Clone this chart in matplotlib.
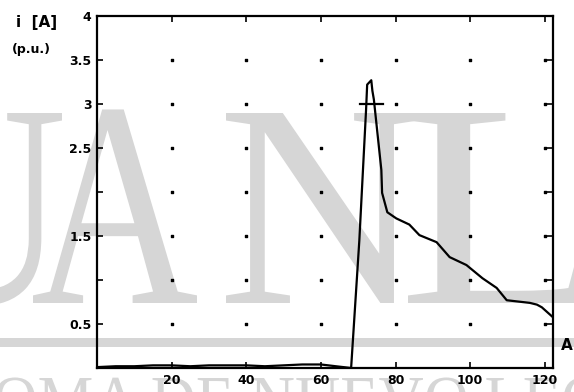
import matplotlib
matplotlib.use("Agg")
import matplotlib.pyplot as plt
from matplotlib.textpath import TextPath
from matplotlib.patches import PathPatch, Rectangle
from matplotlib.font_manager import FontProperties
from matplotlib.transforms import Affine2D

# current trace
t = [0, 5, 10, 15, 20, 25, 30, 35, 40, 45, 50, 55, 60, 64, 68.1,
     70.3, 72.1, 72.4, 73.5, 73.8, 74.2, 76.2, 76.4, 77.8, 80.2, 83.7,
     86.4, 91.0, 94.5, 99.0, 103.3, 107.1, 109.8, 116.0, 117.9, 119.2, 122.1]
i_pu = [0.01, 0.02, 0.02, 0.03, 0.03, 0.02, 0.03, 0.03, 0.03, 0.02, 0.03, 0.04, 0.04, 0.02, 0.0,
        1.45, 2.93, 3.22, 3.27, 3.15, 3.05, 2.25, 1.99, 1.77, 1.70, 1.63,
        1.51, 1.43, 1.26, 1.17, 1.02, 0.91, 0.77, 0.74, 0.72, 0.69, 0.58]

# short horizontal mark across the peak
bar_t = [70.6, 76.7]
bar_i = [3.0, 3.0]

xticks = [20, 40, 60, 80, 100, 120]
xlabels = ["20", "40", "60", "80", "100", "120"]
yticks = [0, 0.5, 1, 1.5, 2, 2.5, 3, 3.5, 4]
ylabels = ["", "0.5", "", "1.5", "", "2.5", "3", "3.5", "4"]

W, H = 574, 392
fig = plt.figure(figsize=(W / 100, H / 100), dpi=100)

# faint watermark of the scanned page
gray = "#d6d6d6"
serif = FontProperties(family="Liberation Serif")

def watermark(text, x0, x1, ytop, cap_ref="N"):
    path = TextPath((0, 0), text, size=100, prop=serif)
    ext = path.get_extents()
    cap = TextPath((0, 0), cap_ref, size=100, prop=serif).get_extents().height
    sx = (x1 - x0) / ext.width
    sy = (ytop[1] - ytop[0]) / cap
    tr = Affine2D().translate(-ext.x0, 0).scale(sx, sy).translate(x0, H - ytop[1])
    fig.add_artist(PathPatch(path, transform=tr, facecolor=gray, edgecolor="none", zorder=-5))

watermark("U", -105, 62, (113, 303))
watermark("A", 33, 197, (111, 303))
watermark("N", 226, 418, (113, 303))
watermark("L", 408, 590, (113, 303))
watermark("OMA DE NUEVO LEÓN", -5, 650, (378, 423))
fig.add_artist(Rectangle((0, H - 347), W, 9, transform=Affine2D(), facecolor=gray,
                         edgecolor="none", zorder=-5))

ax = fig.add_axes([97 / W, (H - 368) / H, (553 - 97) / W, (368 - 16) / H])
ax.set_facecolor("none")

ax.plot(t, i_pu, color="black", lw=1.6)
ax.plot(bar_t, bar_i, color="black", lw=1.6)

# grid shows only as dots where the lines cross
gx = [x for x in xticks for y in yticks[1:-1]]
gy = [y for x in xticks for y in yticks[1:-1]]
ax.scatter(gx, gy, s=3, marker="s", color="black", zorder=1)

ax.set_xlim(0, 122.2)
ax.set_ylim(0, 4)
ax.set_xticks(xticks)
ax.set_xticklabels(xlabels)
ax.set_yticks(yticks)
ax.set_yticklabels(ylabels)
ax.tick_params(direction="in", length=4, width=1.2, top=True, right=True,
               labelsize=9, pad=4)
for lab in ax.get_xticklabels() + ax.get_yticklabels():
    lab.set_fontweight("bold")
for s in ax.spines.values():
    s.set_linewidth(1.6)

fig.text(16 / W, 1 - 22 / H, "i  [A]", fontsize=11, fontweight="bold", va="center", ha="left")
fig.text(12 / W, 1 - 50 / H, "(p.u.)", fontsize=9, fontweight="bold", va="center", ha="left")
fig.text(561 / W, 1 - 346 / H, "A", fontsize=11, fontweight="bold", va="center", ha="left")

fig.savefig("out.png", dpi=100)
